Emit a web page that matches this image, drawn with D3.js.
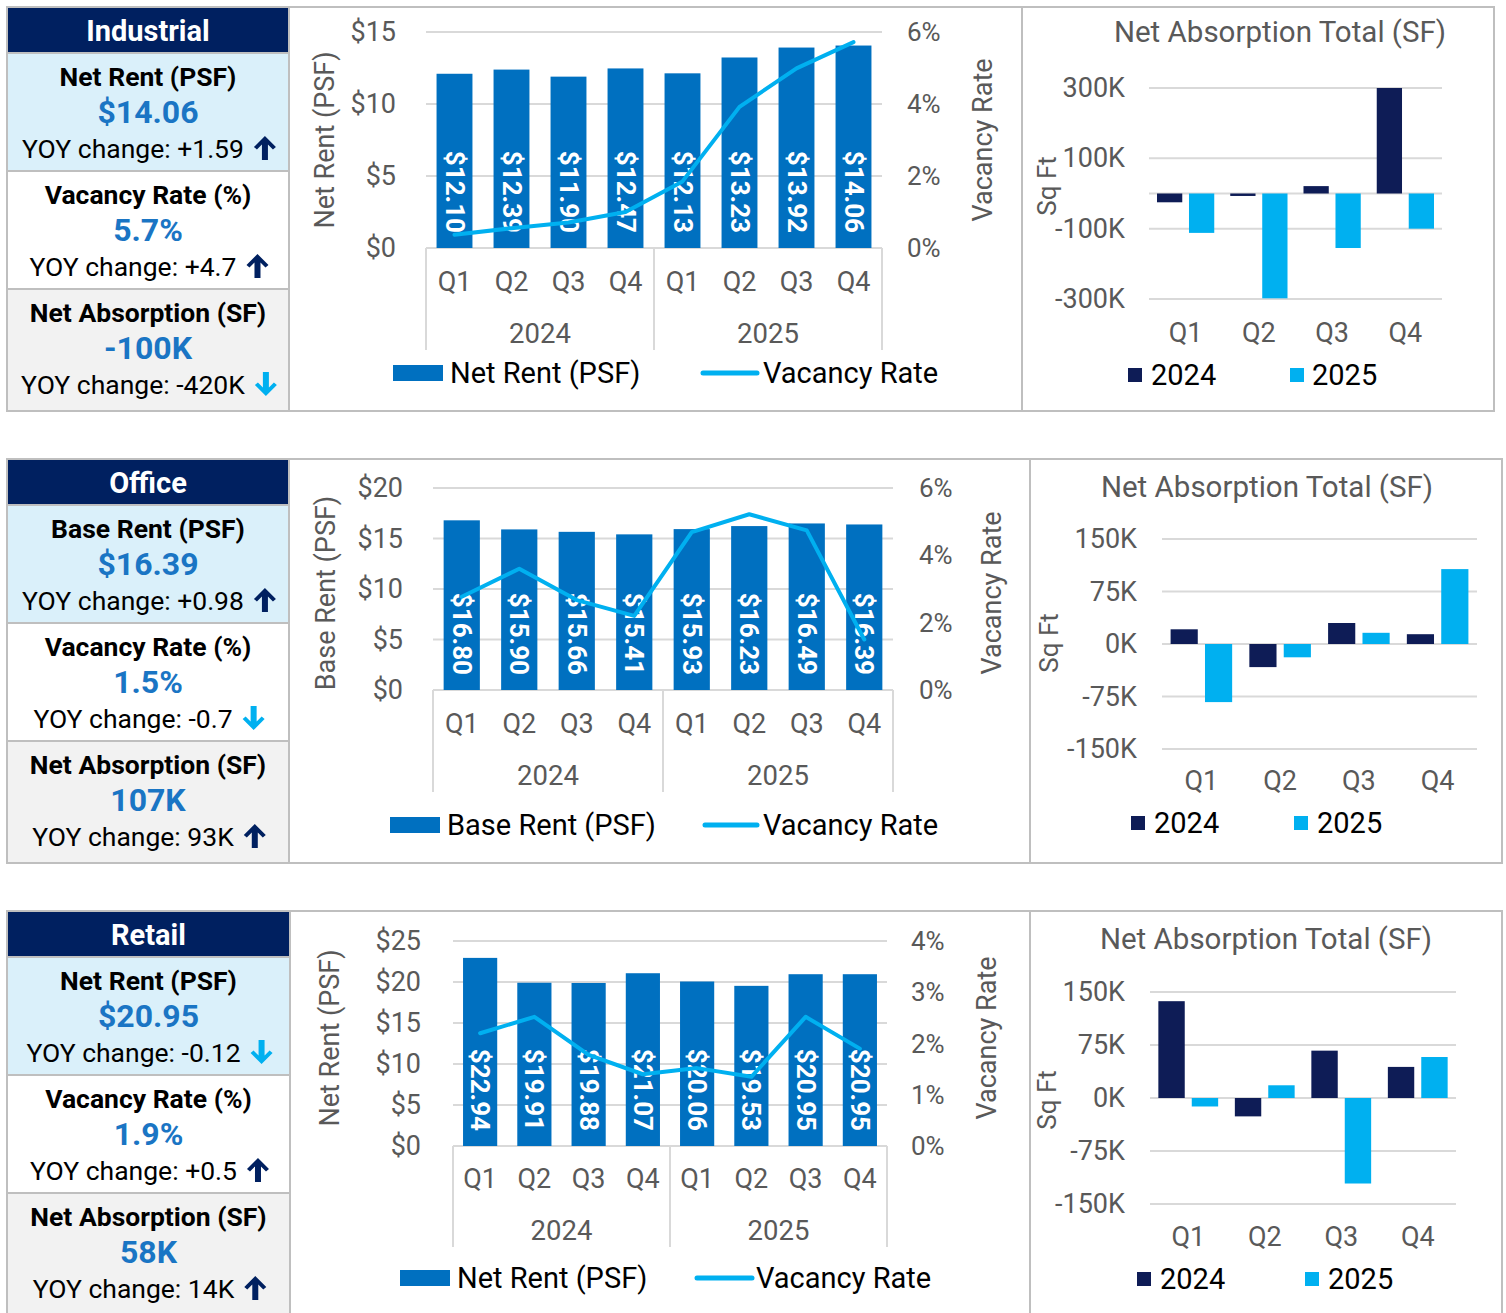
<!DOCTYPE html>
<html>
<head>
<meta charset="utf-8">
<script src="https://cdn.jsdelivr.net/npm/d3@7"></script>
<style>
  html, body { margin: 0; padding: 0; background: #fff; }
  svg { display: block; }
  text { font-family: Roboto, "Noto Sans", sans-serif; }
</style>
</head>
<body>
<svg id="chart" width="1506" height="1313"></svg>
<script>
// ---------------- DATA ----------------
const quarters = ["Q1", "Q2", "Q3", "Q4"];
const years = ["2024", "2025"];

const industrialRent = [12.10, 12.39, 11.90, 12.47, 12.13, 13.23, 13.92, 14.06];
const industrialVacancy = [0.37, 0.55, 0.71, 1.0, 1.85, 3.92, 4.99, 5.72];
const industrialAbs2024 = [-25, -7, 21, 320];
const industrialAbs2025 = [-112, -298, -155, -100];

const officeRent = [16.80, 15.90, 15.66, 15.41, 15.93, 16.23, 16.49, 16.39];
const officeVacancy = [2.77, 3.6, 2.67, 2.2, 4.69, 5.22, 4.74, 1.5];
const officeAbs2024 = [21, -33, 30, 14];
const officeAbs2025 = [-83, -19, 16, 107];

const retailRent = [22.94, 19.91, 19.88, 21.07, 20.06, 19.53, 20.95, 20.95];
const retailVacancy = [2.2, 2.52, 1.78, 1.4, 1.52, 1.35, 2.52, 1.9];
const retailAbs2024 = [137, -26, 67, 44];
const retailAbs2025 = [-12, 18, -121, 58];

const industrialRentTicks = [0, 5, 10, 15];
const industrialVacTicks = [0, 2, 4, 6];
const industrialAbsTicks = [-300, -100, 100, 300];
const officeRentTicks = [0, 5, 10, 15, 20];
const officeVacTicks = [0, 2, 4, 6];
const officeAbsTicks = [-150, -75, 0, 75, 150];
const retailRentTicks = [0, 5, 10, 15, 20, 25];
const retailVacTicks = [0, 1, 2, 3, 4];
const retailAbsTicks = [-150, -75, 0, 75, 150];

const industrialCard = ["Industrial",
  ["Net Rent (PSF)", "$14.06", "YOY change: +1.59", "up"],
  ["Vacancy Rate (%)", "5.7%", "YOY change: +4.7", "up"],
  ["Net Absorption (SF)", "-100K", "YOY change: -420K", "down"]];
const officeCard = ["Office",
  ["Base Rent (PSF)", "$16.39", "YOY change: +0.98", "up"],
  ["Vacancy Rate (%)", "1.5%", "YOY change: -0.7", "down"],
  ["Net Absorption (SF)", "107K", "YOY change: 93K", "up"]];
const retailCard = ["Retail",
  ["Net Rent (PSF)", "$20.95", "YOY change: -0.12", "down"],
  ["Vacancy Rate (%)", "1.9%", "YOY change: +0.5", "up"],
  ["Net Absorption (SF)", "58K", "YOY change: 14K", "up"]];

const rentTitles = ["Net Rent (PSF)", "Base Rent (PSF)", "Net Rent (PSF)"];

// ---------------- STYLE ----------------
const C = {
  navy: "#002060", lightBlue: "#DAF0FA", gray: "#F2F2F2", border: "#BFBFBF",
  value: "#1A75C4", bar: "#0070C0", line: "#00B0F0", abs24: "#0E1C56", abs25: "#00B0F0",
  axisText: "#595959", grid: "#D9D9D9", up: "#002060", down: "#00B0F0"
};

// ---------------- LAYOUT ----------------
const panels = [
  { card: industrialCard, rent: industrialRent, vac: industrialVacancy, a24: industrialAbs2024, a25: industrialAbs2025,
    rTicks: industrialRentTicks, vTicks: industrialVacTicks, aTicks: industrialAbsTicks, rentTitle: rentTitles[0],
    top: 7, bottom: 411, right: 1494, cardRight: 289, boxLeft: 1022,
    m: { x0: 426, x1: 882, yTop: 32, y0: 248, leftTickX: 396, rightTickX: 907, leftTitleX: 325, rightTitleX: 983,
         titleY: 140, qY: 282, yearY: 333, sepY: 350, legY: 373, legRect: 393, legText: 450, legLine: 703, legLine2: 757, legText2: 763 },
    r: { x0: 1149, x1: 1442, yTop: 88, yBot: 299, tickX: 1125, titleX: 1280, titleY: 32, qY: 333, legY: 375,
         sq1: 1128, t1: 1151, sq2: 1290, t2: 1312, sqftX: 1047, sqftY: 186 } },
  { card: officeCard, rent: officeRent, vac: officeVacancy, a24: officeAbs2024, a25: officeAbs2025,
    rTicks: officeRentTicks, vTicks: officeVacTicks, aTicks: officeAbsTicks, rentTitle: rentTitles[1],
    top: 459, bottom: 863, right: 1502, cardRight: 289, boxLeft: 1030,
    m: { x0: 433, x1: 893, yTop: 488, y0: 690, leftTickX: 403, rightTickX: 919, leftTitleX: 326, rightTitleX: 992,
         titleY: 593, qY: 724, yearY: 775, sepY: 792, legY: 825, legRect: 390, legText: 447, legLine: 705, legLine2: 757, legText2: 763 },
    r: { x0: 1162, x1: 1477, yTop: 539, yBot: 749, tickX: 1137, titleX: 1267, titleY: 487, qY: 781, legY: 823,
         sq1: 1131, t1: 1154, sq2: 1294, t2: 1317, sqftX: 1049, sqftY: 643 } },
  { card: retailCard, rent: retailRent, vac: retailVacancy, a24: retailAbs2024, a25: retailAbs2025,
    rTicks: retailRentTicks, vTicks: retailVacTicks, aTicks: retailAbsTicks, rentTitle: rentTitles[2],
    top: 911, bottom: 1330, right: 1502, cardRight: 290, boxLeft: 1030,
    m: { x0: 453, x1: 887, yTop: 941, y0: 1146, leftTickX: 421, rightTickX: 911, leftTitleX: 330, rightTitleX: 987,
         titleY: 1038, qY: 1179, yearY: 1230, sepY: 1247, legY: 1278, legRect: 400, legText: 457, legLine: 697, legLine2: 752, legText2: 756 },
    r: { x0: 1150, x1: 1456, yTop: 992, yBot: 1204, tickX: 1125, titleX: 1266, titleY: 939, qY: 1237, legY: 1279,
         sq1: 1137, t1: 1160, sq2: 1305, t2: 1328, sqftX: 1047, sqftY: 1100 } }
];

const svg = d3.select("#chart");

function arrowPath(cx, cy, dir) {
  const pts = [[0, -12], [11, -1], [8, 1.5], [3, -3.5], [3, 12], [-3, 12], [-3, -3.5], [-8, 1.5], [-11, -1]];
  const s = dir === "up" ? 1 : -1;
  return "M" + pts.map(p => [cx + p[0], cy + s * p[1]].join(",")).join("L") + "Z";
}

function drawCard(g, p) {
  const [title, ...rows] = p.card;
  const L = 7, R = p.cardRight, T = p.top, cx = (L + R) / 2;
  const bounds = [T + 1, T + 46, T + 164, T + 282, p.bottom];
  const fills = [C.navy, C.lightBlue, "#ffffff", C.gray];
  fills.forEach((f, i) => {
    g.append("rect").attr("x", L).attr("y", bounds[i]).attr("width", R - L).attr("height", bounds[i + 1] - bounds[i])
      .attr("fill", f);
  });
  [bounds[1], bounds[2], bounds[3]].forEach(y => {
    g.append("line").attr("x1", L).attr("x2", R).attr("y1", y).attr("y2", y).attr("stroke", C.border).attr("stroke-width", 2);
  });
  g.append("rect").attr("x", L).attr("y", T).attr("width", R - L).attr("height", p.bottom - T)
    .attr("fill", "none").attr("stroke", C.border).attr("stroke-width", 2);
  g.append("text").attr("x", cx).attr("y", T + 24).attr("text-anchor", "middle").attr("dominant-baseline", "central")
    .attr("fill", "#fff").attr("font-weight", "bold").attr("font-size", 29).text(title);
  rows.forEach((r, i) => {
    const base = T + i * 118;
    g.append("text").attr("x", cx).attr("y", base + 69).attr("text-anchor", "middle").attr("dominant-baseline", "central")
      .attr("fill", "#000").attr("font-weight", "bold").attr("font-size", 26.5).text(r[0]);
    g.append("text").attr("x", cx).attr("y", base + 105).attr("text-anchor", "middle").attr("dominant-baseline", "central")
      .attr("fill", C.value).attr("font-weight", "bold").attr("font-size", 32).text(r[1]);
    const t = g.append("text").attr("y", base + 141).attr("dominant-baseline", "central")
      .attr("fill", "#000").attr("font-size", 26.5).text(r[2]);
    const w = t.node().getComputedTextLength();
    const total = w + 10 + 22;
    const sx = cx + 1 - total / 2;
    t.attr("x", sx);
    g.append("path").attr("d", arrowPath(sx + w + 10 + 11, base + 141, r[3]))
      .attr("fill", r[3] === "up" ? C.up : C.down);
  });
}

function drawMiddle(g, p) {
  const m = p.m;
  const x = d3.scaleBand().domain(d3.range(8)).range([m.x0, m.x1]).paddingInner(0.37).paddingOuter(0.185);
  const yL = d3.scaleLinear().domain([0, d3.max(p.rTicks)]).range([m.y0, m.yTop]);
  const yR = d3.scaleLinear().domain([0, d3.max(p.vTicks)]).range([m.y0, m.yTop]);

  g.selectAll(null).data(p.rTicks.filter(v => v > 0)).join("line")
    .attr("x1", m.x0).attr("x2", m.x1).attr("y1", d => yL(d)).attr("y2", d => yL(d))
    .attr("stroke", C.grid).attr("stroke-width", 2);
  g.append("line").attr("x1", m.x0).attr("x2", m.x1).attr("y1", m.y0).attr("y2", m.y0).attr("stroke", C.grid).attr("stroke-width", 2);
  const mid = (m.x0 + m.x1) / 2;
  [m.x0, mid, m.x1].forEach(xx => {
    g.append("line").attr("x1", xx).attr("x2", xx).attr("y1", m.y0).attr("y2", m.sepY).attr("stroke", C.grid).attr("stroke-width", 2);
  });

  g.selectAll(null).data(p.rTicks).join("text")
    .attr("x", m.leftTickX).attr("y", d => yL(d)).attr("text-anchor", "end").attr("dominant-baseline", "central")
    .attr("fill", C.axisText).attr("font-size", 27).text(d => "$" + d);
  g.selectAll(null).data(p.vTicks).join("text")
    .attr("x", m.rightTickX).attr("y", d => yR(d)).attr("text-anchor", "start").attr("dominant-baseline", "central")
    .attr("fill", C.axisText).attr("font-size", 26).text(d => d + "%");

  g.append("text").attr("transform", `translate(${m.leftTitleX},${m.titleY}) rotate(-90)`)
    .attr("text-anchor", "middle").attr("dominant-baseline", "central").attr("fill", C.axisText).attr("font-size", 27).text(p.rentTitle);
  g.append("text").attr("transform", `translate(${m.rightTitleX},${m.titleY}) rotate(-90)`)
    .attr("text-anchor", "middle").attr("dominant-baseline", "central").attr("fill", C.axisText).attr("font-size", 27).text("Vacancy Rate");

  g.selectAll(null).data(p.rent).join("rect")
    .attr("x", (d, i) => x(i)).attr("width", x.bandwidth())
    .attr("y", d => yL(d)).attr("height", d => yL(0) - yL(d)).attr("fill", C.bar);

  g.selectAll(null).data(p.rent).join("text")
    .attr("transform", (d, i) => `translate(${x(i) + x.bandwidth() / 2},${m.y0 - 15}) rotate(90)`)
    .attr("text-anchor", "end").attr("dominant-baseline", "central")
    .attr("fill", "#fff").attr("font-weight", "bold").attr("font-size", 26).text(d => "$" + d.toFixed(2));

  const line = d3.line().x((d, i) => x(i) + x.bandwidth() / 2).y(d => yR(d));
  g.append("path").datum(p.vac).attr("d", line).attr("fill", "none").attr("stroke", C.line)
    .attr("stroke-width", 4).attr("stroke-linejoin", "round").attr("stroke-linecap", "round");

  g.selectAll(null).data(d3.range(8)).join("text")
    .attr("x", i => x(i) + x.bandwidth() / 2).attr("y", m.qY).attr("text-anchor", "middle").attr("dominant-baseline", "central")
    .attr("fill", C.axisText).attr("font-size", 27).text(i => quarters[i % 4]);
  years.forEach((yr, j) => {
    g.append("text").attr("x", j === 0 ? (m.x0 + mid) / 2 : (mid + m.x1) / 2).attr("y", m.yearY)
      .attr("text-anchor", "middle").attr("dominant-baseline", "central").attr("fill", C.axisText).attr("font-size", 27.5).text(yr);
  });

  g.append("rect").attr("x", m.legRect).attr("y", m.legY - 8).attr("width", m.legText - m.legRect - 7).attr("height", 16).attr("fill", C.bar);
  g.append("text").attr("x", m.legText).attr("y", m.legY).attr("dominant-baseline", "central").attr("fill", "#000")
    .attr("font-size", 29).text(p.rentTitle);
  g.append("line").attr("x1", m.legLine).attr("x2", m.legLine2).attr("y1", m.legY).attr("y2", m.legY)
    .attr("stroke", C.line).attr("stroke-width", 5).attr("stroke-linecap", "round");
  g.append("text").attr("x", m.legText2).attr("y", m.legY).attr("dominant-baseline", "central").attr("fill", "#000")
    .attr("font-size", 29).text("Vacancy Rate");
}

function fmtK(v) { return (v < 0 ? "-" : "") + Math.abs(v) + "K"; }

function drawRight(g, p) {
  const r = p.r;
  const x0 = d3.scaleBand().domain(quarters).range([r.x0, r.x1]).padding(0);
  const x1 = d3.scaleBand().domain(years).range([0, x0.bandwidth()]).paddingInner(0.21).paddingOuter(0.25);
  const y = d3.scaleLinear().domain([d3.min(p.aTicks), d3.max(p.aTicks)]).range([r.yBot, r.yTop]).clamp(true);

  const gridVals = Array.from(new Set(p.aTicks.concat([0])));
  g.selectAll(null).data(gridVals).join("line")
    .attr("x1", r.x0).attr("x2", r.x1).attr("y1", d => y(d)).attr("y2", d => y(d))
    .attr("stroke", C.grid).attr("stroke-width", 2);
  g.selectAll(null).data(p.aTicks).join("text")
    .attr("x", r.tickX).attr("y", d => y(d)).attr("text-anchor", "end").attr("dominant-baseline", "central")
    .attr("fill", C.axisText).attr("font-size", 27).text(fmtK);

  const series = [[years[0], p.a24, C.abs24], [years[1], p.a25, C.abs25]];
  series.forEach(([yr, vals, col]) => {
    g.selectAll(null).data(vals).join("rect")
      .attr("x", (d, i) => x0(quarters[i]) + x1(yr)).attr("width", x1.bandwidth())
      .attr("y", d => Math.min(y(d), y(0))).attr("height", d => Math.abs(y(d) - y(0)))
      .attr("fill", col);
  });

  g.append("text").attr("x", r.titleX).attr("y", r.titleY).attr("text-anchor", "middle").attr("dominant-baseline", "central")
    .attr("fill", C.axisText).attr("font-size", 29.5).text("Net Absorption Total (SF)");
  g.append("text").attr("transform", `translate(${r.sqftX},${r.sqftY}) rotate(-90)`)
    .attr("text-anchor", "middle").attr("dominant-baseline", "central").attr("fill", C.axisText).attr("font-size", 26).text("Sq Ft");
  g.selectAll(null).data(quarters).join("text")
    .attr("x", d => x0(d) + x0.bandwidth() / 2).attr("y", r.qY).attr("text-anchor", "middle").attr("dominant-baseline", "central")
    .attr("fill", C.axisText).attr("font-size", 27).text(d => d);

  [[r.sq1, r.t1, C.abs24, years[0]], [r.sq2, r.t2, C.abs25, years[1]]].forEach(([sx, tx, col, label]) => {
    g.append("rect").attr("x", sx).attr("y", r.legY - 7).attr("width", 14).attr("height", 14).attr("fill", col);
    g.append("text").attr("x", tx).attr("y", r.legY).attr("dominant-baseline", "central").attr("fill", "#000")
      .attr("font-size", 29).text(label);
  });
}

panels.forEach(p => {
  const g = svg.append("g");
  g.append("rect").attr("x", p.cardRight).attr("y", p.top).attr("width", p.right - p.cardRight).attr("height", p.bottom - p.top)
    .attr("fill", "#fff").attr("stroke", C.border).attr("stroke-width", 2);
  g.append("line").attr("x1", p.boxLeft).attr("x2", p.boxLeft).attr("y1", p.top).attr("y2", p.bottom)
    .attr("stroke", C.border).attr("stroke-width", 2);
  drawCard(g, p);
  drawMiddle(g, p);
  drawRight(g, p);
});
</script>
</body>
</html>
